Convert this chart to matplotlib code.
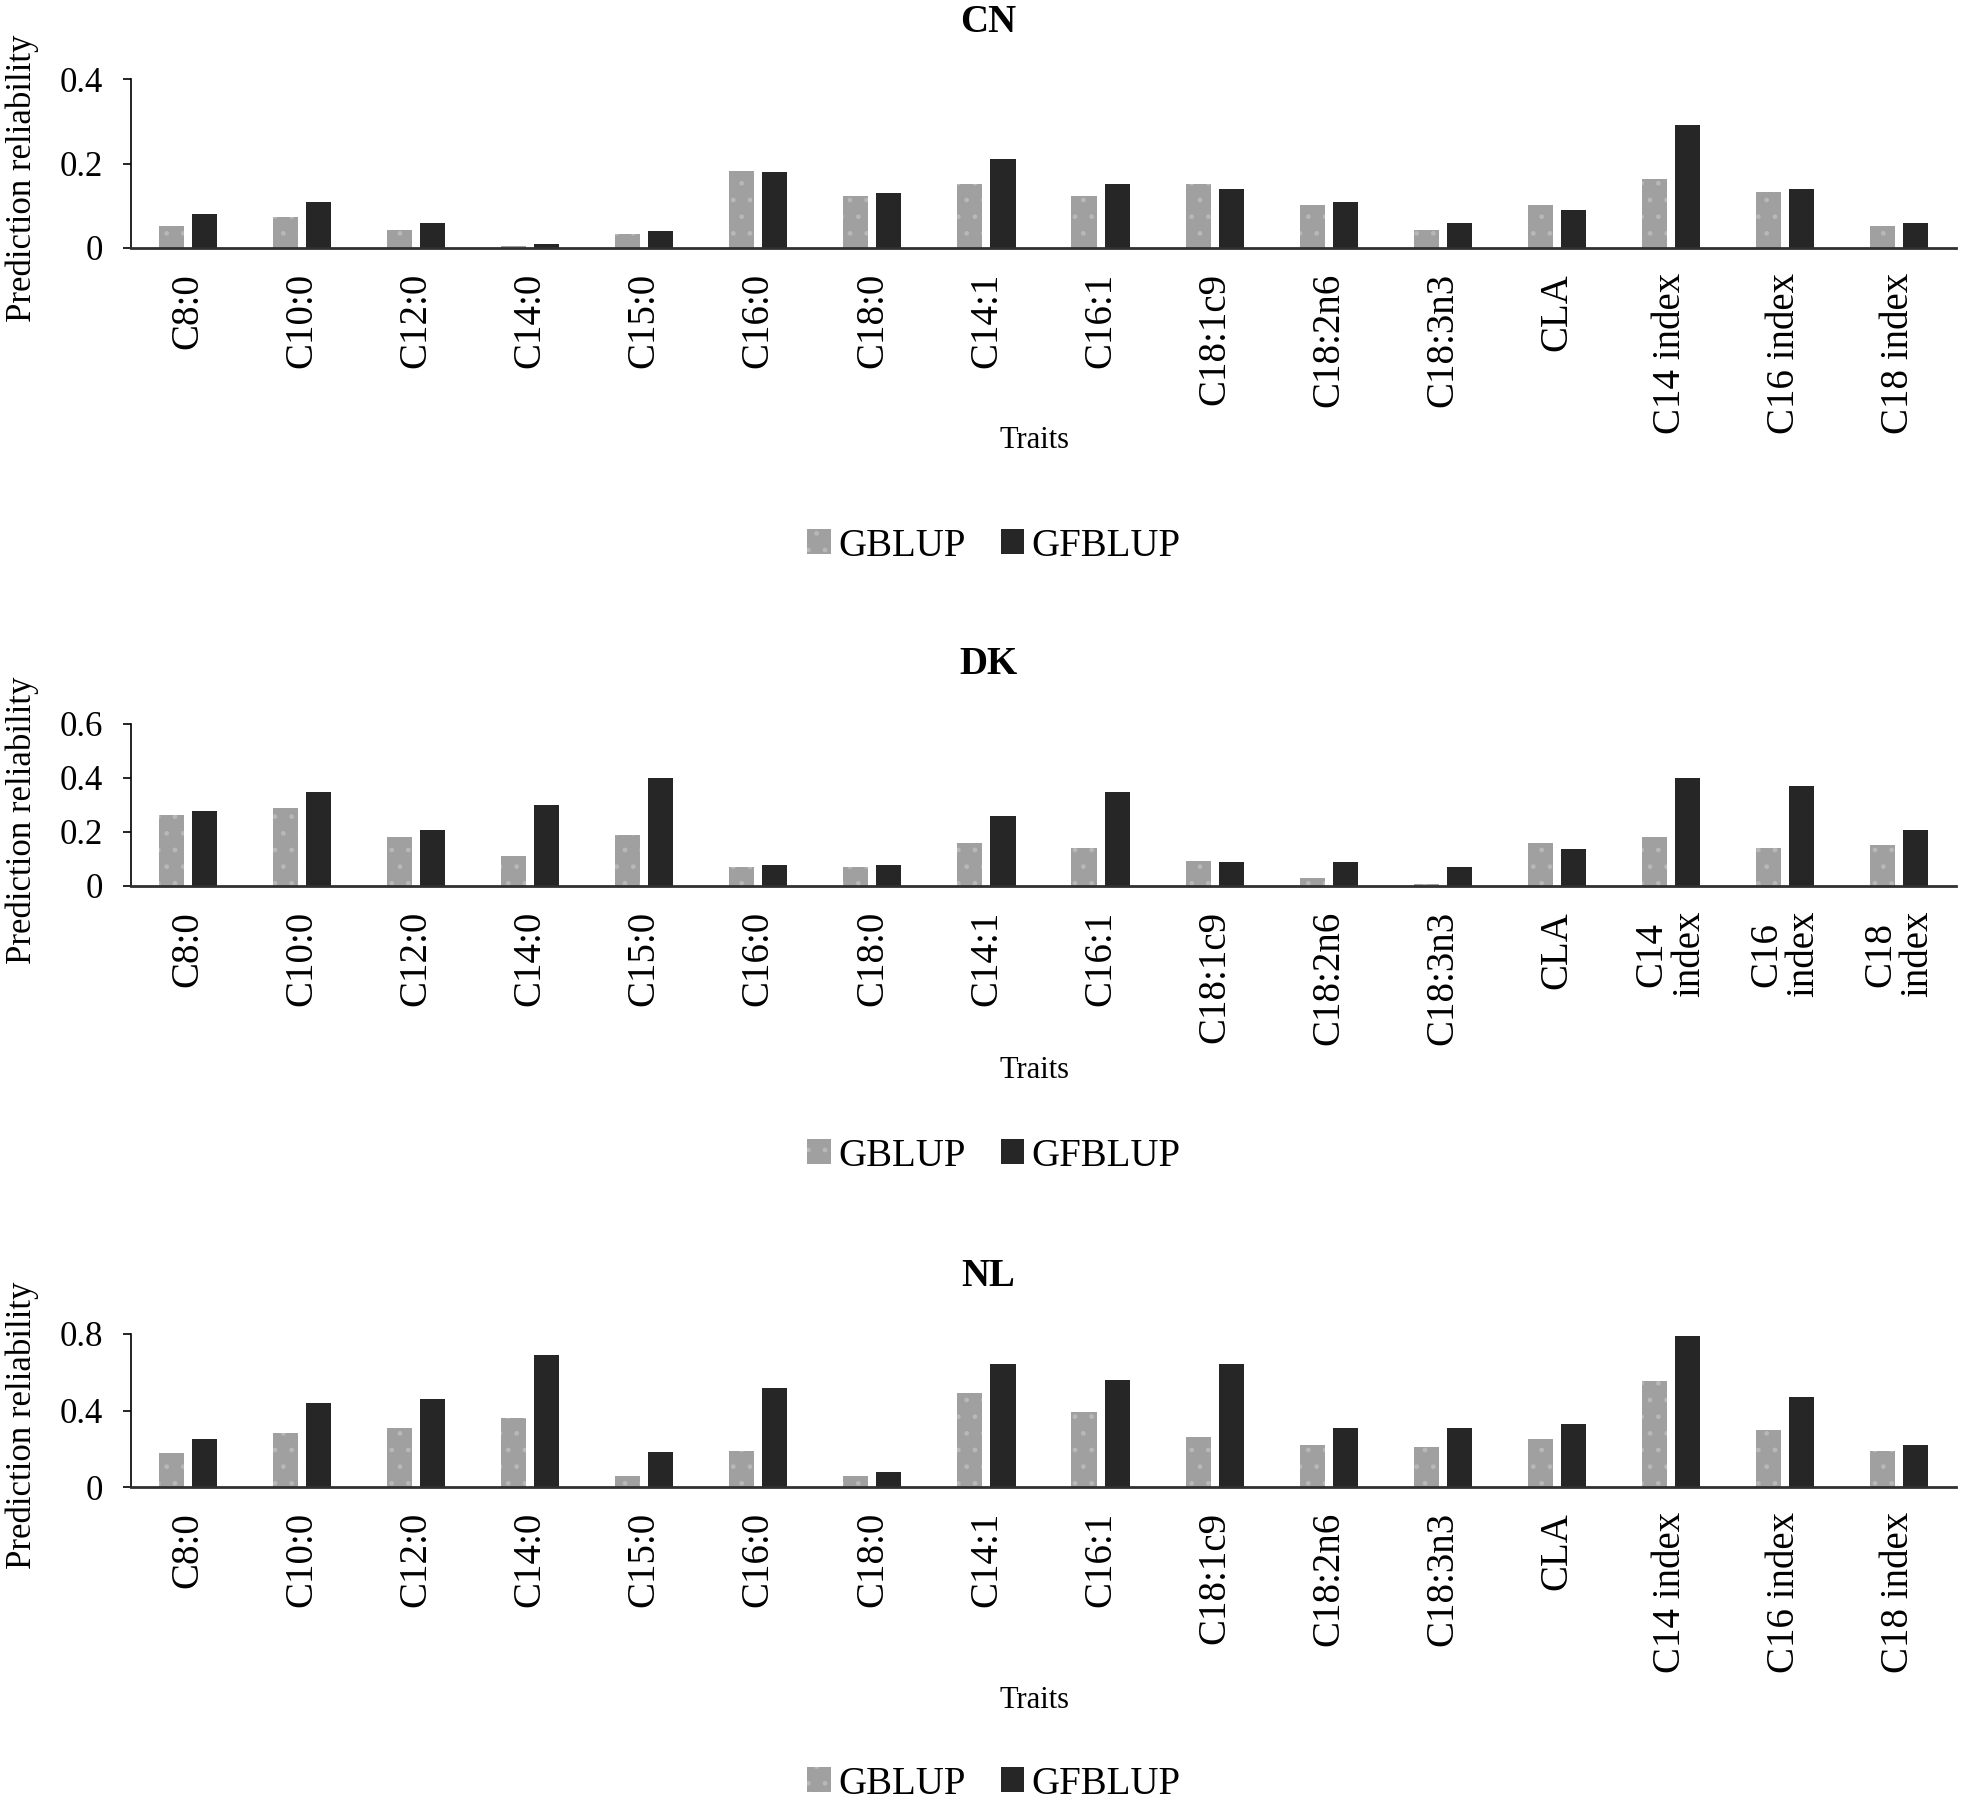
import matplotlib
matplotlib.use("Agg")
import matplotlib.pyplot as plt
import numpy as np
from matplotlib.patches import Patch

plt.rcParams['font.family'] = ['Liberation Serif', 'DejaVu Serif']
plt.rcParams['hatch.linewidth'] = 1.0

traits = ["C8:0", "C10:0", "C12:0", "C14:0", "C15:0", "C16:0", "C18:0", "C14:1",
          "C16:1", "C18:1c9", "C18:2n6", "C18:3n3", "CLA", "C14 index", "C16 index", "C18 index"]
traits_dk = ["C8:0", "C10:0", "C12:0", "C14:0", "C15:0", "C16:0", "C18:0", "C14:1",
             "C16:1", "C18:1c9", "C18:2n6", "C18:3n3", "CLA", "C14\nindex", "C16\nindex", "C18\nindex"]

cn_gblup = [0.052, 0.073, 0.043, 0.005, 0.033, 0.182, 0.123, 0.151,
            0.123, 0.151, 0.102, 0.043, 0.102, 0.163, 0.133, 0.052]
cn_gfblup = [0.080, 0.110, 0.060, 0.010, 0.040, 0.181, 0.130, 0.210,
             0.151, 0.140, 0.110, 0.060, 0.090, 0.290, 0.140, 0.060]

dk_gblup = [0.263, 0.288, 0.180, 0.110, 0.188, 0.069, 0.069, 0.158,
            0.140, 0.091, 0.028, 0.009, 0.158, 0.180, 0.140, 0.151]
dk_gfblup = [0.279, 0.349, 0.209, 0.299, 0.401, 0.079, 0.079, 0.260,
             0.349, 0.090, 0.090, 0.069, 0.138, 0.401, 0.370, 0.209]

nl_gblup = [0.178, 0.282, 0.308, 0.359, 0.059, 0.188, 0.059, 0.489,
            0.390, 0.261, 0.219, 0.209, 0.251, 0.556, 0.297, 0.188]
nl_gfblup = [0.251, 0.441, 0.461, 0.689, 0.181, 0.520, 0.079, 0.641,
             0.560, 0.641, 0.311, 0.311, 0.332, 0.790, 0.472, 0.219]

panels = [
    ("CN", traits, cn_gblup, cn_gfblup, [0, 0.2, 0.4], ["0", "0.2", "0.4"], 0.4),
    ("DK", traits_dk, dk_gblup, dk_gfblup, [0, 0.2, 0.4, 0.6], ["0", "0.2", "0.4", "0.6"], 0.6),
    ("NL", traits, nl_gblup, nl_gfblup, [0, 0.4, 0.8], ["0", "0.4", "0.8"], 0.8),
]

W, H = 1961, 1812
fig = plt.figure(figsize=(W / 100, H / 100), dpi=100)

# pixel layout: (axes top, axes bottom, title y, traits y, legend y)
layout = [
    (79, 248, 23, 441, 546),
    (724, 886, 665, 1071, 1156),
    (1334, 1487, 1276, 1700, 1784),
]

c_gb = "#a0a0a0"
c_gf = "#262626"
hatch_col = "#b8b8b8"
bw = 0.22
off = 0.145

for (title, labels, gb, gf, yt, ytl, ymax), (top, bot, ty, try_, ly) in zip(panels, layout):
    left_px, right_px = 131, 1956
    ax = fig.add_axes([left_px / W, 1 - bot / H, (right_px - left_px) / W, (bot - top) / H])
    x = np.arange(len(labels))
    ax.bar(x - off, gb, bw, color=c_gb, edgecolor=hatch_col, linewidth=0, hatch=".")
    ax.bar(x + off, gf, bw, color=c_gf, linewidth=0)
    ax.set_xlim(-0.5, len(labels) - 0.5)
    ax.set_ylim(0, ymax)
    ax.set_yticks(yt)
    ax.set_yticklabels(ytl)
    ax.set_xticks(x)
    ax.set_xticklabels(labels, rotation=90, ha="center", va="top", multialignment="center",
                       linespacing=1.0)
    ax.tick_params(axis="x", length=0, pad=18, labelsize=28)
    ax.tick_params(axis="y", length=6, width=1.2, pad=14, labelsize=25, direction="out")
    for s in ("top", "right"):
        ax.spines[s].set_visible(False)
    ax.spines["left"].set_linewidth(1.2)
    ax.spines["bottom"].set_linewidth(2.0)
    ax.spines["bottom"].set_color("#303030")
    ax.set_facecolor("none")

    fig.text(988 / W, 1 - ty / H, title, ha="center", va="center", fontsize=28, fontweight="bold")
    fig.text(1034 / W, 1 - try_ / H, "Traits", ha="center", va="center", fontsize=22)
    fig.text(22 / W, 1 - (top + bot + 30) / 2 / H, "Prediction reliability", ha="center",
             va="center", rotation=90, fontsize=25)
    handles = [Patch(facecolor=c_gb, edgecolor=hatch_col, linewidth=0, hatch="."),
               Patch(facecolor=c_gf, linewidth=0)]
    fig.legend(handles, ["GBLUP", "GFBLUP"], loc="center", bbox_to_anchor=(994 / W, 1 - ly / H),
               ncol=2, frameon=False, fontsize=28, handlelength=0.6, handleheight=0.6,
               handletextpad=0.2, columnspacing=0.9, borderaxespad=0)

fig.savefig("out.png", dpi=100)
